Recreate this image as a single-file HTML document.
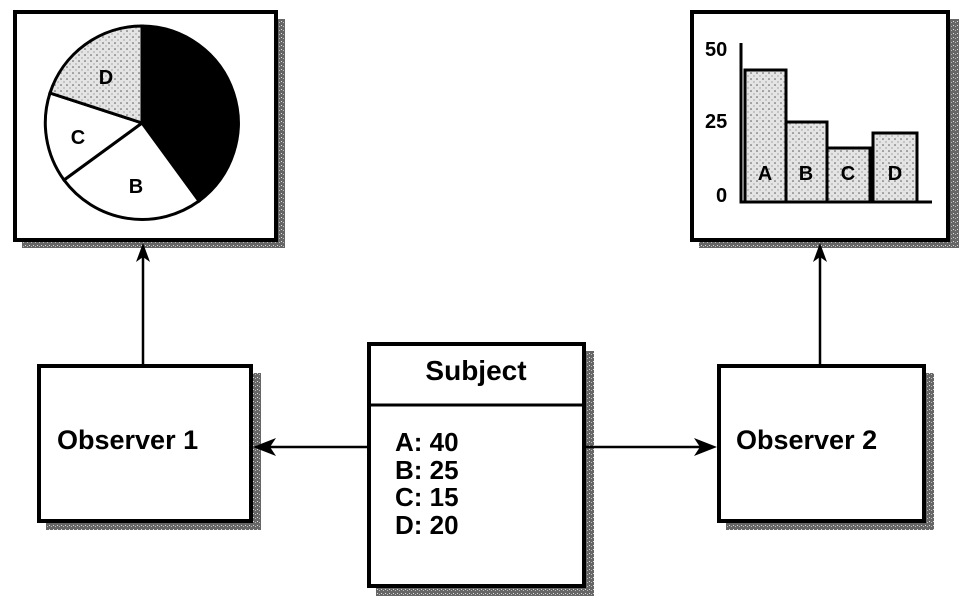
<!DOCTYPE html>
<html><head><style>
body{margin:0;background:#fff;width:968px;height:614px;overflow:hidden}
svg{display:block}
text{font-family:"Liberation Sans",sans-serif;font-weight:bold;fill:#000}
</style></head><body>
<svg width="968" height="614" viewBox="0 0 968 614">
<defs>
<pattern id="dots" width="6" height="6" patternUnits="userSpaceOnUse">
<rect width="6" height="6" fill="#e4e4e4"/><circle cx="1" cy="1" r="0.8" fill="#555"/><circle cx="4" cy="4" r="0.6" fill="#777"/>
</pattern>
<pattern id="shad" width="4" height="4" patternUnits="userSpaceOnUse">
<rect width="4" height="4" fill="#666"/><rect x="1" y="1" width="1" height="1" fill="#ddd"/><rect x="3" y="2" width="1" height="1" fill="#bbb"/>
</pattern>
</defs>
<!-- shadows -->
<rect x="22" y="19" width="263" height="229" fill="url(#shad)"/>
<rect x="699" y="19" width="260" height="229" fill="url(#shad)"/>
<rect x="46" y="373" width="215" height="157" fill="url(#shad)"/>
<rect x="726" y="373" width="208" height="157" fill="url(#shad)"/>
<rect x="376" y="351" width="218" height="245" fill="url(#shad)"/>
<!-- pie box -->
<rect x="15" y="12" width="261" height="228" fill="#fff" stroke="#000" stroke-width="4"/>
<g stroke="#000" stroke-width="3">
<path d="M142 123 L142 26 A97 97 0 0 1 199 201 Z" fill="#000"/>
<path d="M142 123 L199 201 A97 97 0 0 1 64 180 Z" fill="#fff"/>
<path d="M142 123 L64 180 A97 97 0 0 1 50 93 Z" fill="#fff"/>
<path d="M142 123 L50 93 A97 97 0 0 1 142 26 Z" fill="url(#dots)"/>
</g>
<text x="106" y="84" font-size="20" text-anchor="middle">D</text>
<text x="78" y="144" font-size="20" text-anchor="middle">C</text>
<text x="136" y="193" font-size="20" text-anchor="middle">B</text>
<!-- bar box -->
<rect x="692" y="12" width="256" height="228" fill="#fff" stroke="#000" stroke-width="4"/>
<g stroke="#000" stroke-width="3" fill="url(#dots)">
<rect x="745" y="70" width="41" height="132"/>
<rect x="786" y="122" width="41" height="80"/>
<rect x="827" y="148" width="43" height="54"/>
<rect x="873" y="133" width="44" height="69"/>
</g>
<path d="M741 43 V202 H932" stroke="#000" stroke-width="3" fill="none"/>
<text x="705" y="56" font-size="20">50</text>
<text x="705" y="128" font-size="20">25</text>
<text x="716" y="202" font-size="20">0</text>
<text x="765" y="180" font-size="20" text-anchor="middle">A</text>
<text x="806" y="180" font-size="20" text-anchor="middle">B</text>
<text x="848" y="180" font-size="20" text-anchor="middle">C</text>
<text x="895" y="180" font-size="20" text-anchor="middle">D</text>
<!-- connectors -->
<g stroke="#000" stroke-width="2.5">
<line x1="143" y1="364" x2="143" y2="256"/>
<line x1="820" y1="364" x2="820" y2="256"/>
<line x1="367" y1="447" x2="265" y2="447"/>
<line x1="585" y1="447" x2="705" y2="447"/>
</g>
<polygon points="143,243 136,262 143,257 150,262"/>
<polygon points="820,243 813,262 820,257 827,262"/>
<polygon points="253,447 276,438 270,447 276,456"/>
<polygon points="717,447 694,438 700,447 694,456"/>
<!-- observers -->
<rect x="39" y="366" width="212" height="155" fill="#fff" stroke="#000" stroke-width="4"/>
<text x="57" y="449" font-size="27">Observer 1</text>
<rect x="719" y="366" width="205" height="155" fill="#fff" stroke="#000" stroke-width="4"/>
<text x="736" y="449" font-size="27">Observer 2</text>
<!-- subject -->
<rect x="369" y="344" width="215" height="242" fill="#fff" stroke="#000" stroke-width="4"/>
<line x1="369" y1="405" x2="584" y2="405" stroke="#000" stroke-width="3"/>
<text x="476" y="380" font-size="28" text-anchor="middle">Subject</text>
<g font-size="26">
<text x="395" y="451">A: 40</text>
<text x="395" y="479">B: 25</text>
<text x="395" y="506">C: 15</text>
<text x="395" y="534">D: 20</text>
</g>
</svg>
</body></html>
